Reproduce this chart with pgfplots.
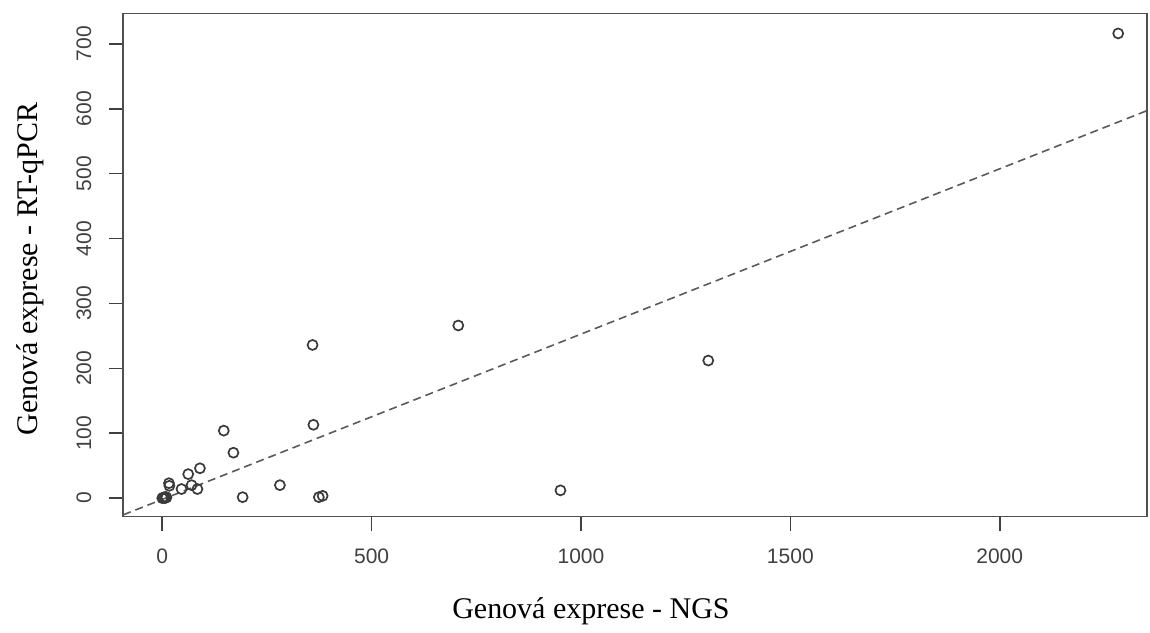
\documentclass[border=0pt]{standalone}
\usepackage{fontspec}
\setmainfont{Liberation Sans}
\newfontfamily\timesfont{Liberation Serif}
\usepackage{pgfplots}
\pgfplotsset{compat=1.18}
\definecolor{boxc}{HTML}{505050}
\definecolor{tickc}{HTML}{404040}
\definecolor{ptc}{HTML}{3A3A3A}
\definecolor{fitc}{HTML}{5A5A5A}

\begin{document}
\begin{tikzpicture}
% page size: 1150x633 px at 0.5pt per px
\path[use as bounding box] (-61.65pt,-58.15pt) rectangle (513.5pt,258.35pt);
\begin{axis}[
    at={(0,0)}, anchor=south west,
    scale only axis, width=512pt, height=251.7pt,
    xmin=-93.1, xmax=2351.8, ymin=-28.4, ymax=747,
    xtick={0,500,1000,1500,2000},
    ytick={0,100,200,300,400,500,600,700},
    scaled ticks=false,
    tick align=outside, major tick length=7pt,
    xtick pos=bottom, ytick pos=left,
    axis line style={boxc, line width=0.8pt},
    tick style={tickc, line width=0.8pt},
    ticklabel style={font=\fontsize{10.5}{12}\selectfont, text=tickc},
    xticklabel shift=5.8pt,
    yticklabel style={rotate=90, anchor=south},
    yticklabel shift=5.5pt,
    /pgf/number format/1000 sep={},
    /pgf/number format/assume math mode=true,
  ]
  \addplot[fitc, dash pattern=on 4pt off 2.5pt, line width=0.8pt]
    coordinates {(-93.1,-25.7) (2351.8,597)};
  \addplot[only marks, mark=o, mark size=2.5pt,
    mark options={ptc, line width=0.85pt}] coordinates {
    (0,0) (3,1) (6,0) (8,2) (10,1)
    (16,23) (17,19) (46,14) (62,37) (70,20) (84,14) (90,46)
    (147,104) (170,70) (192,1.5) (281,20)
    (359,236) (361,113) (374,1.5) (383,3.5)
    (707,266) (951,12) (1304,212) (2283,716)
  };
\end{axis}
\node[font=\timesfont\fontsize{15}{18}\selectfont] at (233.9pt,-47.2pt)
  {Genová exprese - NGS};
\node[font=\timesfont\fontsize{15}{18}\selectfont, rotate=90] at (-46.5pt,123.9pt)
  {Genová exprese - RT-qPCR};
\end{tikzpicture}
\end{document}
